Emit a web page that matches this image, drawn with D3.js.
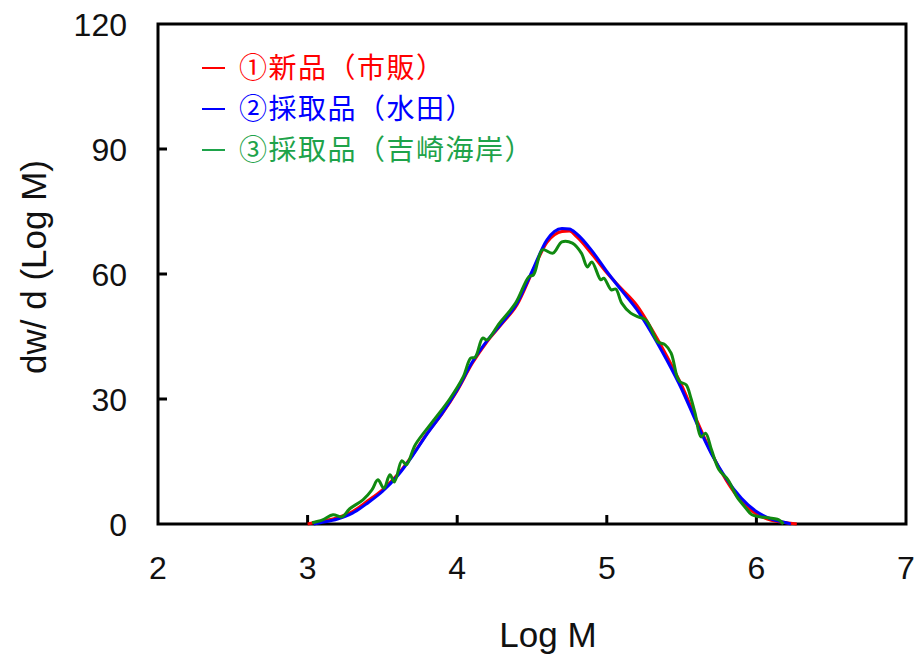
<!DOCTYPE html>
<html><head><meta charset="utf-8">
<script src="https://cdn.jsdelivr.net/npm/d3@7"></script>
<style>body{margin:0;background:#fff}</style>
</head><body>
<svg id="c" width="915" height="657"></svg>
<script>
const xTicks = [2,3,4,5,6,7];
const yTicks = [0,30,60,90,120];
const seriesNames = ["①新品（市販）","②採取品（水田）","③採取品（吉崎海岸）"];
const logM_red = [3.0,3.1,3.2,3.3,3.4,3.5,3.6,3.7,3.8,3.9,4.0,4.1,4.2,4.3,4.4,4.5,4.6,4.65,4.7,4.75,4.8,4.9,5.0,5.1,5.2,5.3,5.4,5.5,5.6,5.7,5.8,5.9,6.0,6.1,6.2,6.27];
const dw_red   = [0,0.7,1.5,3.0,5.5,8.2,11.8,16.5,21.8,26.5,32,38.5,43.8,48.1,52.6,60.3,67.6,69.4,70.2,70.3,68.9,64.8,60.3,56.4,52.5,46.8,40.4,33.3,25,17,10.4,5.4,2.4,0.9,0.3,0];
const logM_blue = [3.04,3.1,3.2,3.3,3.4,3.5,3.6,3.7,3.8,3.9,4.0,4.1,4.2,4.3,4.4,4.5,4.6,4.65,4.7,4.75,4.8,4.9,5.0,5.1,5.2,5.3,5.4,5.5,5.6,5.7,5.8,5.9,6.0,6.1,6.2,6.23];
const dw_blue   = [0,0.4,1.2,2.6,5.0,7.8,11.5,16.3,21.7,26.6,32.2,38.8,44,48.3,53,60.6,68.2,70.2,70.9,70.8,69.6,65.6,60.6,56,51.5,45.8,39.4,32.4,24.3,16.8,10.8,6.2,3.0,1.2,0.3,0];
const logM_green = [3.03,3.10,3.17,3.23,3.28,3.37,3.43,3.47,3.51,3.55,3.58,3.63,3.66,3.72,3.83,3.95,4.04,4.09,4.12,4.17,4.20,4.28,4.39,4.48,4.51,4.57,4.64,4.70,4.77,4.83,4.87,4.90,4.96,4.98,5.03,5.06,5.10,5.16,5.21,5.26,5.32,5.34,5.39,5.43,5.47,5.49,5.53,5.56,5.59,5.63,5.66,5.70,5.75,5.81,5.87,5.93,5.97,6.03,6.15,6.18];
const dw_green   = [0.3,1.0,2.2,1.7,3.6,5.8,8.2,10.6,8.6,11.8,10.1,15.2,14.2,19.0,24.3,30.0,35.3,39.8,40,44.6,44.2,48.1,53,59.4,59.8,65.8,65,67.7,67.4,65,61.7,62.9,58.6,59,56.2,56.4,53,50.6,49.7,49,45,43.7,43,41,35.3,34.1,33.4,30.5,26.6,20.9,21.8,17.8,13,10.6,6.5,3.8,2.2,1.7,1.0,0];
const colors = ["#ff0000","#0000ff","#108a10"];
const legendColors = ["#ff0000","#0000ff","#1ea34a"];

const svg = d3.select("#c");
const L=158, T=24, R=906, B=524;
const x = d3.scaleLinear().domain([2,7]).range([L,R]);
const y = d3.scaleLinear().domain([0,120]).range([B,T]);
const font = "'Liberation Sans', Arial, sans-serif";

// frame
svg.append("rect").attr("x",L).attr("y",T).attr("width",R-L).attr("height",B-T)
  .attr("fill","none").attr("stroke","#000").attr("stroke-width",3);

// inward ticks
svg.append("g").selectAll("line").data(xTicks.slice(1,-1)).join("line")
  .attr("x1",d=>x(d)).attr("x2",d=>x(d)).attr("y1",B).attr("y2",B-9)
  .attr("stroke","#000").attr("stroke-width",3);
svg.append("g").selectAll("line").data(yTicks.slice(1,-1)).join("line")
  .attr("y1",d=>y(d)).attr("y2",d=>y(d)).attr("x1",L).attr("x2",L+9)
  .attr("stroke","#000").attr("stroke-width",3);

// tick labels
svg.append("g").selectAll("text").data(xTicks).join("text")
  .attr("x",d=>x(d)).attr("y",579).attr("text-anchor","middle")
  .attr("font-family",font).attr("font-size",32).attr("fill","#111").text(d=>d);
svg.append("g").selectAll("text").data(yTicks).join("text")
  .attr("x",127).attr("y",d=>y(d)).attr("dy","0.36em").attr("text-anchor","end")
  .attr("font-family",font).attr("font-size",32).attr("fill","#111").text(d=>d);

// axis titles
svg.append("text").attr("x",548).attr("y",647).attr("text-anchor","middle")
  .attr("font-family",font).attr("font-size",35).attr("fill","#111").text("Log M");
svg.append("text").attr("transform","translate(46,267) rotate(-90)").attr("text-anchor","middle")
  .attr("font-family",font).attr("font-size",35).attr("fill","#111").text("dw/ d (Log M)");

// curves
const line = d3.line().x(d=>x(d[0])).y(d=>y(d[1]));
const series = [
  d3.zip(logM_red, dw_red),
  d3.zip(logM_blue, dw_blue),
  d3.zip(logM_green, dw_green)
];
series.forEach((s,i)=>{
  svg.append("path").datum(s)
    .attr("d", line.curve(i===2 ? d3.curveCatmullRom.alpha(0.5) : d3.curveMonotoneX))
    .attr("fill","none").attr("stroke",colors[i]).attr("stroke-width",3)
    .attr("stroke-linejoin","round");
});

// legend
const ly = [68,109,150];
seriesNames.forEach((n,i)=>{
  svg.append("line").attr("x1",202).attr("x2",225).attr("y1",ly[i]).attr("y2",ly[i])
    .attr("stroke",legendColors[i]).attr("stroke-width",2);
  svg.append("text").attr("x",239).attr("y",ly[i]).attr("dy","0.36em")
    .attr("font-family","'Noto Sans CJK JP', sans-serif").attr("font-size",28)
    .attr("letter-spacing",1.5)
    .attr("fill",legendColors[i]).text(n);
});
</script>
</body></html>
